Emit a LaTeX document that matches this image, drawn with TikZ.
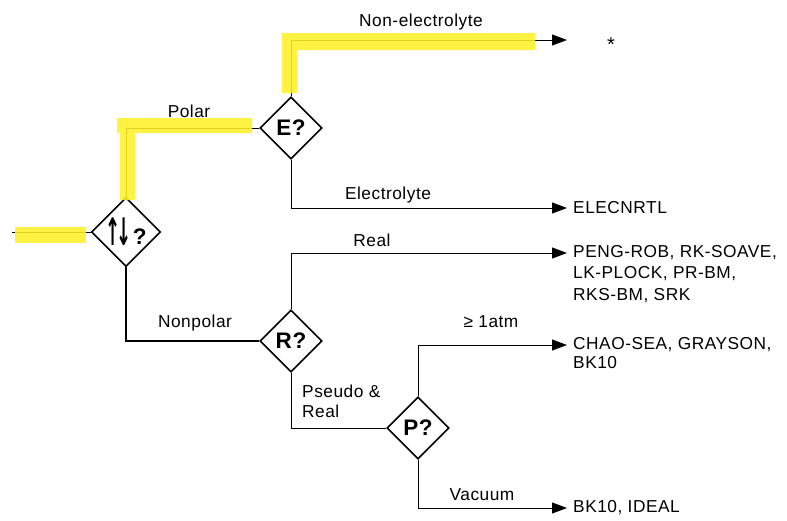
\documentclass[tikz,border=0pt]{standalone}
\usepackage{fontspec}
\usepackage{graphicx}
\setmainfont{Liberation Sans}[LetterSpace=3]
\newfontfamily\symfont{DejaVu Sans}
\usetikzlibrary{shapes.geometric,arrows.meta}
\definecolor{hlyellow}{RGB}{255,240,40}
\begin{document}
\begin{tikzpicture}[x=1pt,y=-1pt,
  dec/.style={diamond,draw,line width=1.6pt,minimum width=62pt,minimum height=62pt,inner sep=0pt,font=\fontsize{22.5}{22.5}\selectfont\bfseries},
  conn/.style={line width=1pt},
  heavy/.style={line width=2pt},
  arr/.style={conn,-{Triangle[length=15pt,width=11pt]}},
  lbl/.style={font=\fontsize{17.3}{20}\selectfont,inner sep=0pt},
  outtext/.style={lbl,anchor=west,align=left},
  hl/.style={fill=hlyellow,fill opacity=0.88,draw=none}]
\useasboundingbox (0,0) rectangle (787,520);
% decision nodes
\node[dec] (D1) at (126,232) {{\symfont\bfseries\fontsize{19}{19}\selectfont\raisebox{-1pt}{\scalebox{0.95}[2]{↑}}\kern-4pt\raisebox{-1pt}{\scalebox{0.95}[2]{↓}}}\kern1pt?};
\node[dec] (E) at (291,128) {E?};
\node[dec] (R) at (291,341) {R?};
\node[dec] (P) at (418,428) {P?};
% coordinates
\coordinate (in) at (12,232);
\coordinate (tNE) at (567,40);
\coordinate (tEl) at (567,208);
\coordinate (tRe) at (567,253);
\coordinate (tAt) at (567,345);
\coordinate (tVa) at (567,508);
% connectors
\draw[conn] (in) -- (D1.west);
\draw[conn] (D1.north) |- (E.west);
\draw[arr] (E.north) |- (tNE);
\draw[arr] (E.south) |- (tEl);
\draw[heavy] (D1.south) |- (R.west);
\draw[arr] (R.north) |- (tRe);
\draw[conn] (R.south) |- (P.west);
\draw[arr] (P.north) |- (tAt);
\draw[arr] (P.south) |- (tVa);
% highlights
\fill[hl] (15,227) rectangle (86,243);
\fill[hl] (120,200) -- (120,133) -- (117,133) -- (117,118) -- (252,118) -- (252,133) -- (135,133) -- (135,200) -- cycle;
\fill[hl] (282,93) -- (282,33) -- (535,33) -- (535,50) -- (297,50) -- (297,93) -- cycle;
% labels
\node[lbl] (lPolar) at (189,111) {Polar};
\node[lbl] (lNonpolar) at (195,323) {Nonpolar};
\node[lbl] (lNonel) at (421,22) {Non-electrolyte};
\node[lbl] (lEl) at (388,195) {Electrolyte};
\node[lbl] (lReal) at (372,240) {Real};
\node[lbl] (lAtm) at (491,322) {≥ 1atm};
\node[lbl,anchor=north west,align=left] (lPseudo) at (302,385) {Pseudo \&\\Real};
\node[lbl] (lVac) at (482,495) {Vacuum};
% outputs
\node[lbl,font=\fontsize{20}{20}\selectfont] (oStar) at (611,45) {*};
\node[outtext] (oEl) at (573,208) {ELECNRTL};
\node[lbl,anchor=north west,align=left,font=\fontsize{17.3}{21.5}\selectfont] (oRe) at (573,245) {PENG-ROB, RK-SOAVE,\\LK-PLOCK, PR-BM,\\RKS-BM, SRK};
\node[lbl,anchor=north west,align=left,font=\fontsize{17.3}{19.5}\selectfont] (oAt) at (573,337) {CHAO-SEA, GRAYSON,\\BK10};
\node[outtext] (oVa) at (573,508) {BK10, IDEAL};
\end{tikzpicture}
\end{document}
